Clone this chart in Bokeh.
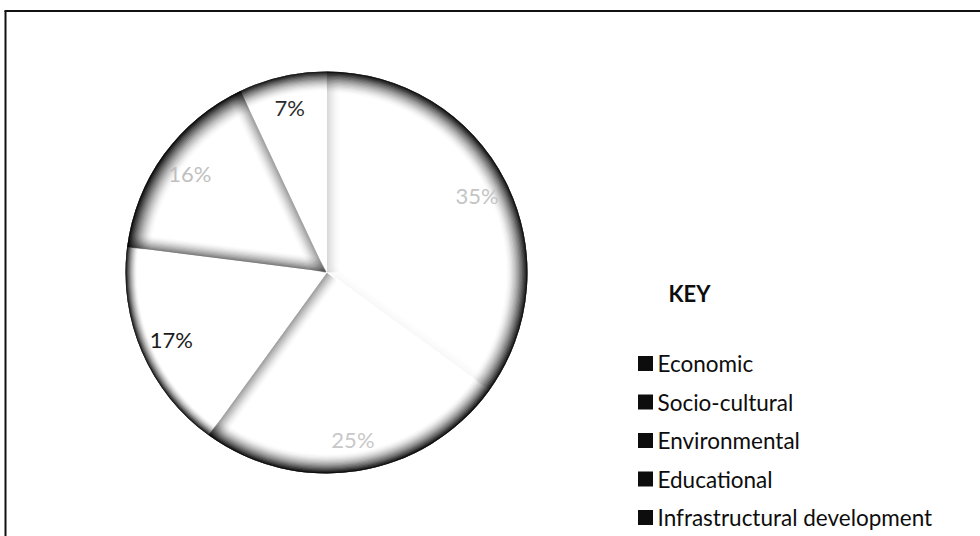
import numpy as np
from bokeh.plotting import figure
from bokeh.models import Range1d, ColumnDataSource
from bokeh.core.properties import value
from bokeh.embed import file_html
from bokeh.resources import INLINE

# ---------------- data ----------------
categories = ["Economic", "Socio-cultural", "Environmental", "Educational",
              "Infrastructural development"]
shares = [35, 25, 17, 16, 7]
pct_labels = ["35%", "25%", "17%", "16%", "7%"]
legend_title = "KEY"

# ---------------- styles ----------------
label_colors = ["#c4c4c4", "#c8c8c8", "#1a1a1a", "#bfbfbf", "#2b2b2b"]
rim_strength = [0.95, 0.97, 0.95, 0.97, 0.92]
rim_width = [22, 20, 12, 24, 20]
edge_hi = [0.16, 0.0, 0.0, 0.55, 0.0]    # shading along the counter-clockwise edge
edge_lo = [0.03, 0.40, 0.0, 0.40, 0.0]   # shading along the clockwise edge
FONT = "Lato"

W, H = 980, 536
CX, CY, R = 326, H - 272, 201
LABEL_R = 169

p = figure(width=W, height=H, x_range=Range1d(0, W), y_range=Range1d(0, H),
           output_backend="svg", toolbar_location=None, min_border=0,
           x_axis_location=None, y_axis_location=None)
p.grid.visible = False
p.outline_line_color = None
p.background_fill_color = "white"
p.border_fill_color = "white"

# ---------------- angles ----------------
frac = np.array(shares, dtype=float) / np.sum(shares)
cum = np.cumsum(frac)
hi = np.radians(90 - 360 * np.concatenate([[0.0], cum[:-1]]))
lo = np.radians(90 - 360 * cum)
mid = (hi + lo) / 2

# base slices
p.wedge(x=CX, y=CY, radius=R, start_angle=lo, end_angle=hi,
        fill_color="white", line_color=None)


def alphas_for_profile(strength, n, power):
    # overlapping bands j cover depth [0, (j+1)/n]; find per-band alpha
    depths = (np.arange(n) + 0.5) / n
    P = strength * (1 - depths) ** power
    T = 1 - P
    a = np.zeros(n)
    for k in range(n):
        Tn = T[k + 1] if k + 1 < n else 1.0
        a[k] = 1 - T[k] / Tn
    return np.clip(a, 0, 1)


# radial edge shading
xs, ys, ealpha = [], [], []
NE, EW = 12, 15
for i in range(len(shares)):
    theta = hi[i] - lo[i]
    for phi, s, sign in ((hi[i], edge_hi[i], -1), (lo[i], edge_lo[i], 1)):
        if s <= 0:
            continue
        u = np.array([np.cos(phi), np.sin(phi)])
        nvec = np.array([np.cos(phi + sign * np.pi / 2), np.sin(phi + sign * np.pi / 2)])
        al = alphas_for_profile(s, NE, 1.6)
        for j in range(NE):
            o = EW * (j + 1) / NE
            t0 = o / np.tan(theta) if theta < np.pi / 2 else 0.0
            t1 = np.sqrt(R * R - o * o)
            c = np.array([CX, CY], dtype=float)
            pts = [c + 0.5 * nvec, c + R * u + 0.5 * nvec,
                   c + t1 * u + o * nvec, c + t0 * u + o * nvec]
            xs.append([pt[0] for pt in pts])
            ys.append([pt[1] for pt in pts])
            ealpha.append(al[j])
p.patches(xs="xs", ys="ys", fill_alpha="a",
          source=ColumnDataSource(dict(xs=xs, ys=ys, a=ealpha)),
          fill_color="black", line_color=None)

# rim shading
NR = 16
rs = dict(ir=[], sa=[], ea=[], a=[])
for i in range(len(shares)):
    al = alphas_for_profile(rim_strength[i], NR, 1.7)
    for j in range(NR):
        rs["ir"].append(R - rim_width[i] * (j + 1) / NR)
        rs["sa"].append(lo[i])
        rs["ea"].append(hi[i])
        rs["a"].append(al[j])
p.annular_wedge(x=CX, y=CY, inner_radius="ir", outer_radius=R, start_angle="sa",
                end_angle="ea", fill_alpha="a", fill_color="black", line_color=None,
                source=ColumnDataSource(rs))

# percentage labels
p.text(x=CX + LABEL_R * np.cos(mid), y=CY + LABEL_R * np.sin(mid), text=pct_labels,
       text_align="center", text_baseline="middle", text_font=value(FONT),
       text_font_size="22px", text_color=label_colors)

# key
KX, KY0, KSTEP = 645, H - 363, 38.5
p.text(x=[668], y=[H - 293], text=[legend_title], text_align="left", text_baseline="middle",
       text_font=value(FONT), text_font_size="22px", text_font_style="bold",
       text_color="#0d0d0d")
ky = [KY0 - KSTEP * i for i in range(len(categories))]
p.scatter(x=[KX] * len(categories), y=ky, marker="square", size=15,
          fill_color="#0d0d0d", line_color=None)
p.text(x=[KX + 12] * len(categories), y=ky, text=categories, text_align="left",
       text_baseline="middle", text_font=value(FONT), text_font_size="22.5px",
       text_color="#0d0d0d")

# frame lines (left and top only, as in the scan)
p.segment(x0=[5, 4], y0=[H - 10.5, H - 10.5], x1=[5, W], y1=[0, H - 10.5],
          line_color="#111111", line_width=2)

open("out.html", "w").write(file_html(p, INLINE))
